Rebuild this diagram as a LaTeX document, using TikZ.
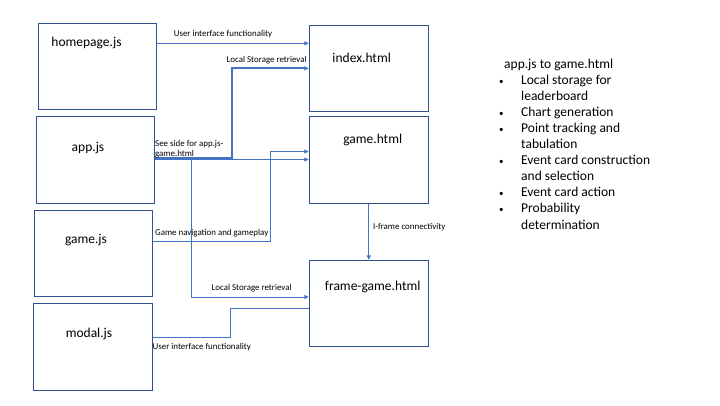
\documentclass[tikz,border=0pt]{standalone}
\usepackage{fontspec}
\setmainfont{Carlito}
\usetikzlibrary{arrows.meta}
\definecolor{boxblue}{HTML}{2F528F}
\definecolor{linkblue}{HTML}{4472C4}
\begin{document}
\begin{tikzpicture}[x=1pt,y=-1pt,
  filebox/.style={draw=boxblue,line width=1pt,minimum width=#1,inner sep=0pt},
  boxtext/.style={font=\fontsize{13.5}{16}\selectfont,inner sep=0pt},
  smalltext/.style={font=\fontsize{8.9}{10.5}\selectfont,inner sep=0pt},
  conn/.style={draw=linkblue,line width=0.9pt},
  arr/.style={-{Triangle[length=4.5pt,width=4pt]}}]
\useasboundingbox (0,0) rectangle (720,405);
\fill[white] (0,0) rectangle (720,405);
% boxes
\node[filebox=118.4pt,minimum height=86pt] (home) at (97.5,66.3) {};
\node[filebox=118pt,minimum height=86.6pt] (app) at (95.7,160) {};
\node[filebox=118.4pt,minimum height=86pt] (gamejs) at (93.5,253.7) {};
\node[filebox=119.4pt,minimum height=87.4pt] (modal) at (93,347) {};
\node[filebox=119pt,minimum height=85.7pt] (index) at (368.8,68.2) {};
\node[filebox=119pt,minimum height=87pt] (gamehtml) at (368.8,159.8) {};
\node[filebox=119pt,minimum height=85.7pt] (frame) at (368.8,303.2) {};
% box texts
\node[boxtext] (homet) at (86.5,43.3) {homepage.js};
\node[boxtext] (appt) at (88,147.7) {app.js};
\node[boxtext] (gamejst) at (86,240) {game.js};
\node[boxtext] (modalt) at (89,334) {modal.js};
\node[boxtext] (indext) at (361.7,57.7) {index.html};
\node[boxtext] (gamehtmlt) at (372.7,140) {game.html};
\node[boxtext] (framet) at (372.7,287.3) {frame-game.html};
% connectors
\draw[conn,arr] (home.east |- 0,43.3) -- (index.west |- 0,43.3);
\draw[conn,arr,line width=2pt] (app.east |- 0,158.3) -| (231.7,68.3) -- (index.west |- 0,68.3);
\draw[conn,arr] (app.east |- 0,159.5) -- (gamehtml.west |- 0,159.5);
\coordinate (split) at (191,159.5);
\draw[conn,arr] (split) |- (frame.west |- 0,297);
\draw[conn,arr] (gamejs.east |- 0,241) -| (270,151.5) -- (gamehtml.west |- 0,151.5);
\draw[conn] (modal.east |- 0,337.7) -| (230.7,308.3) -- (frame.west |- 0,308.3);
\draw[conn,arr] (gamehtml.south) -- (frame.north);
% connector labels
\node[smalltext] (l1) at (223,34) {User interface functionality};
\node[smalltext] (l2) at (266.7,60) {Local Storage retrieval};
\node[smalltext,anchor=west,align=left] (l3) at (155,149.3) {See side for app.js-\\game.html};
\node[smalltext,anchor=west] (l4) at (155,232.7) {Game navigation and gameplay};
\node[smalltext] (l5) at (251.7,288.3) {Local Storage retrieval};
\node[smalltext,anchor=west] (l6) at (152.5,347.3) {User interface functionality};
\node[smalltext,anchor=west] (l7) at (373,227.3) {I-frame connectivity};
% side list
\node[anchor=north west,align=left,inner sep=0pt,font=\fontsize{13.5}{16.1}\selectfont] (side) at (499,58.5) {%
\hspace*{5pt}app.js to game.html\\
\makebox[22pt][l]{\small•}Local storage for\\
\hspace*{22pt}leaderboard\\
\makebox[22pt][l]{\small•}Chart generation\\
\makebox[22pt][l]{\small•}Point tracking and\\
\hspace*{22pt}tabulation\\
\makebox[22pt][l]{\small•}Event card construction\\
\hspace*{22pt}and selection\\
\makebox[22pt][l]{\small•}Event card action\\
\makebox[22pt][l]{\small•}Probability\\
\hspace*{22pt}determination};
\end{tikzpicture}
\end{document}
